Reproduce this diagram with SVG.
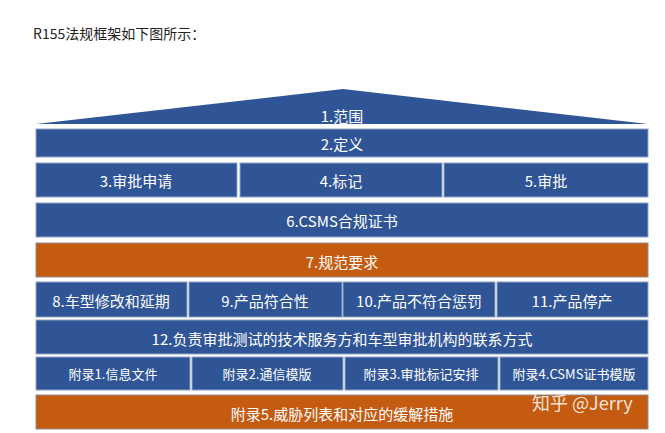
<svg xmlns="http://www.w3.org/2000/svg" width="665" height="433" viewBox="0 0 665 433">
<style>
.b{fill:#2F5597;stroke:#8FA3C4;stroke-width:1}
.o{fill:#C55A11;stroke:#8C8C8C;stroke-width:1}
.t{font-family:"Noto Sans CJK SC","Noto Sans",sans-serif;fill:#fff;text-anchor:middle;dominant-baseline:central;font-size:15px}
.s{font-size:13px}
</style>
<rect width="665" height="433" fill="#fff"/>
<text x="33" y="33" style="font-family:'Noto Sans CJK SC','Noto Sans',sans-serif;font-size:14px;fill:#222;dominant-baseline:central">R155法规框架如下图所示：</text>
<g id="n1"><polygon points="36,124 343,89 648,124" fill="#2F5597"/><text class="t" x="342" y="115">1.范围</text></g>
<g id="n2"><rect class="b" x="36" y="129" width="612" height="28"/><text class="t" x="342" y="143">2.定义</text></g>
<g id="n3"><rect class="b" x="36" y="163" width="201" height="34"/><text class="t" x="136" y="180">3.审批申请</text></g>
<g id="n4"><rect class="b" x="240" y="163" width="202" height="34"/><text class="t" x="341" y="180">4.标记</text></g>
<g id="n5"><rect class="b" x="444" y="163" width="204" height="34"/><text class="t" x="546" y="180">5.审批</text></g>
<g id="n6"><rect class="b" x="36" y="203" width="612" height="34"/><text class="t" x="342" y="220">6.CSMS合规证书</text></g>
<g id="n7"><rect class="o" x="36" y="243" width="612" height="34"/><text class="t" x="342" y="261">7.规范要求</text></g>
<g id="n8"><rect class="b" x="36" y="282" width="151" height="35"/><text class="t" x="111" y="300">8.车型修改和延期</text></g>
<g id="n9"><rect class="b" x="189" y="282" width="153" height="35"/><text class="t" x="265" y="300">9.产品符合性</text></g>
<g id="n10"><rect class="b" x="343" y="282" width="152" height="35"/><text class="t" x="419" y="300">10.产品不符合惩罚</text></g>
<g id="n11"><rect class="b" x="497" y="282" width="151" height="35"/><text class="t" x="572" y="300">11.产品停产</text></g>
<g id="n12"><rect class="b" x="36" y="320" width="612" height="34"/><text class="t" x="342" y="338">12.负责审批测试的技术服务方和车型审批机构的联系方式</text></g>
<g id="a1"><rect class="b" x="36" y="357" width="154" height="33"/><text class="t s" x="113" y="373">附录1.信息文件</text></g>
<g id="a2"><rect class="b" x="192" y="357" width="151" height="33"/><text class="t s" x="267" y="373">附录2.通信模版</text></g>
<g id="a3"><rect class="b" x="345" y="357" width="153" height="33"/><text class="t s" x="421" y="373">附录3.审批标记安排</text></g>
<g id="a4"><rect class="b" x="500" y="357" width="148" height="33"/><text class="t s" x="574" y="373">附录4.CSMS证书模版</text></g>
<g id="a5"><rect class="o" x="36" y="395" width="612" height="34"/><text class="t" x="342" y="413">附录5.威胁列表和对应的缓解措施</text></g>
<g id="connectors"></g>
<text x="532" y="402" style="font-family:'Noto Sans CJK SC','Noto Sans',sans-serif;font-size:18px;fill:#fff;fill-opacity:0.85;dominant-baseline:central">知乎 @Jerry</text>
</svg>
